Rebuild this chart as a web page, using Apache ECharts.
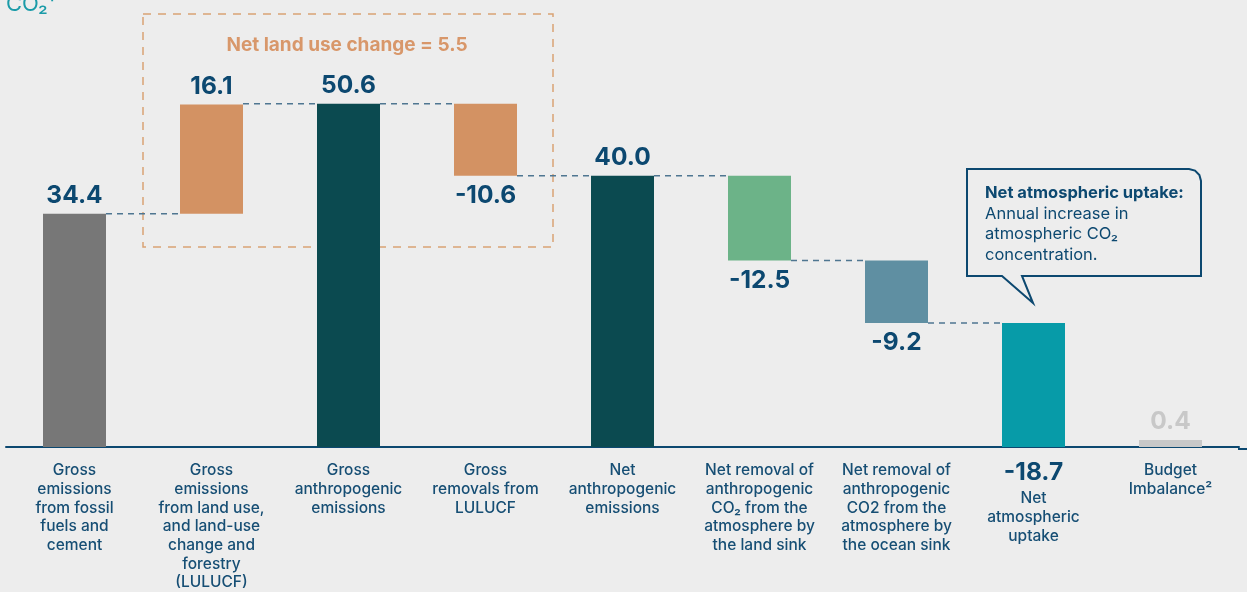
<!DOCTYPE html>
<html>
<head>
<meta charset="utf-8">
<script src="https://cdn.jsdelivr.net/npm/echarts@6/dist/echarts.min.js"></script>
<style>
  html, body { margin: 0; padding: 0; background: #ededed; }
  #chart { width: 1247px; height: 592px; }
</style>
</head>
<body>
<div id="chart"></div>
<script>
// categories (x axis)
var categories = [
    'Gross\nemissions\nfrom fossil\nfuels and\ncement',
    'Gross\nemissions\nfrom land use,\nand land-use\nchange and\nforestry\n(LULUCF)',
    'Gross\nanthropogenic\nemissions',
    'Gross\nremovals from\nLULUCF',
    'Net\nanthropogenic\nemissions',
    'Net removal of\nanthropogenic\nCO\u2082 from the\natmosphere by\nthe land sink',
    'Net removal of\nanthropogenic\nCO2 from the\natmosphere by\nthe ocean sink',
    'Net\natmospheric\nuptake',
    'Budget\nImbalance\u00b2'
];
// waterfall: where each bar starts and how tall it is
var barBase = [0, 34.4, 0, 40.0, 0, 27.5, 18.3, 0, 0];
var barSize = [34.4, 16.1, 50.6, 10.6, 40.0, 12.5, 9.2, 18.3, 0.4];
var valueLabels = ['34.4', '16.1', '50.6', '-10.6', '40.0', '-12.5', '-9.2', '-18.7', '0.4'];
var labelSide = ['top', 'top', 'top', 'bottom', 'top', 'bottom', 'bottom', 'none', 'top'];
var barColors = ['#777777', '#d39263', '#0b4a50', '#d39263', '#0b4a50', '#6cb388', '#5f8fa2', '#079ba8', '#c8c8c8'];
// dashed connector levels: from bar i to bar i+1
var connectors = [[0, 34.4], [1, 50.6], [2, 50.6], [3, 40.0], [4, 40.0], [5, 27.5], [6, 18.3]];

var BLUE = '#0c4870';
var BAR_W = 63;

var chart = echarts.init(document.getElementById('chart'));

var topData = [];
for (let i = 0; i < barSize.length; i++) {
    let item = {value: barSize[i], itemStyle: {color: barColors[i]}};
    if (labelSide[i] === 'none') {
        item.label = {show: false};
    } else {
        item.label = {
            show: true,
            position: labelSide[i],
            distance: labelSide[i] === 'top' ? 6 : 8,
            color: i === 8 ? '#c8c8c8' : BLUE
        };
    }
    topData.push(item);
}

// callout outline, rounded top-right corner
var callout = [[967, 169], [1189, 169], [1195, 170.6], [1199.4, 175], [1201, 181],
    [1201, 276], [1022, 276], [1033, 303], [1002, 276], [967, 276]];

var option = {
    backgroundColor: '#ededed',
    animation: false,
    grid: {left: 6, right: 8, top: 40, bottom: 143},
    xAxis: {
        type: 'category',
        data: categories,
        axisLine: {lineStyle: {color: BLUE, width: 2}},
        axisTick: {show: false},
        axisLabel: {
            interval: 0,
            margin: 14,
            color: '#164e74',
            fontFamily: 'Inter',
            fontSize: 15.5,
            fontWeight: 500,
            lineHeight: 18.7,
            formatter: function (v, idx) {
                if (idx === 7) {
                    // value of the last step sits in the label block
                    return '{big|' + valueLabels[7] + '}\n{sp| }\n' + v.split('\n').map(function (s) {
                        return '{n|' + s + '}';
                    }).join('\n');
                }
                return v;
            },
            rich: {
                big: {fontSize: 24.5, fontWeight: 'bold', color: BLUE, lineHeight: 24, fontFamily: 'Inter'},
                sp: {fontSize: 1, lineHeight: 4},
                n: {fontSize: 15.5, fontWeight: 500, color: '#164e74', lineHeight: 18.7, fontFamily: 'Inter'}
            }
        }
    },
    yAxis: {
        type: 'value',
        min: 0,
        max: 60,
        show: false,
        splitLine: {show: false}
    },
    series: [
        {
            name: 'base',
            type: 'bar',
            stack: 'w',
            silent: true,
            barWidth: BAR_W,
            itemStyle: {color: 'transparent'},
            data: barBase
        },
        {
            name: 'value',
            type: 'bar',
            stack: 'w',
            barWidth: BAR_W,
            barMinHeight: 7,
            label: {
                fontFamily: 'Inter',
                fontSize: 24.5,
                fontWeight: 'bold',
                lineHeight: 24,
                formatter: function (p) {
                    return valueLabels[p.dataIndex];
                }
            },
            data: topData
        },
        {
            name: 'connectors',
            type: 'custom',
            silent: true,
            data: connectors,
            encode: {x: 0, y: 1},
            renderItem: function (params, api) {
                let i = api.value(0);
                let lvl = api.value(1);
                let a = api.coord([i, lvl]);
                let b = api.coord([i + 1, lvl]);
                return {
                    type: 'line',
                    shape: {x1: a[0] + BAR_W / 2, y1: a[1], x2: b[0] - BAR_W / 2, y2: b[1]},
                    style: {stroke: '#4f7691', lineWidth: 1.5, lineDash: [6, 5]}
                };
            }
        }
    ],
    graphic: [
        {
            type: 'text', x: 6, y: -7,
            style: {text: 'CO\u2082\u00b9', fill: '#1a9ba8', font: '22px Inter'}
        },
        {
            type: 'rect',
            shape: {x: 143, y: 14, width: 410, height: 233},
            style: {fill: 'none', stroke: '#d9a274', lineWidth: 1.5, lineDash: [8, 7]}
        },
        {
            type: 'text', x: 347, y: 45,
            style: {
                text: 'Net land use change = 5.5', fill: '#d8976a',
                font: 'bold 19px Inter', align: 'center', verticalAlign: 'middle'
            }
        },
        {
            type: 'line',
            shape: {x1: 1238, y1: 449, x2: 1247, y2: 449},
            style: {stroke: BLUE, lineWidth: 2}
        },
        {
            type: 'polygon',
            shape: {points: callout},
            style: {fill: '#ededed', stroke: BLUE, lineWidth: 2}
        },
        {
            type: 'text', x: 985, y: 183,
            style: {
                text: '{b|Net atmospheric uptake:}\n{n|Annual increase in}\n{n|atmospheric CO\u2082}\n{n|concentration.}',
                rich: {
                    b: {fontFamily: 'Inter', fontSize: 16.5, fontWeight: 'bold', fill: BLUE, lineHeight: 20.5},
                    n: {fontFamily: 'Inter', fontSize: 16.5, fill: BLUE, lineHeight: 20.5}
                }
            }
        }
    ]
};

chart.setOption(option);
</script>
</body>
</html>
